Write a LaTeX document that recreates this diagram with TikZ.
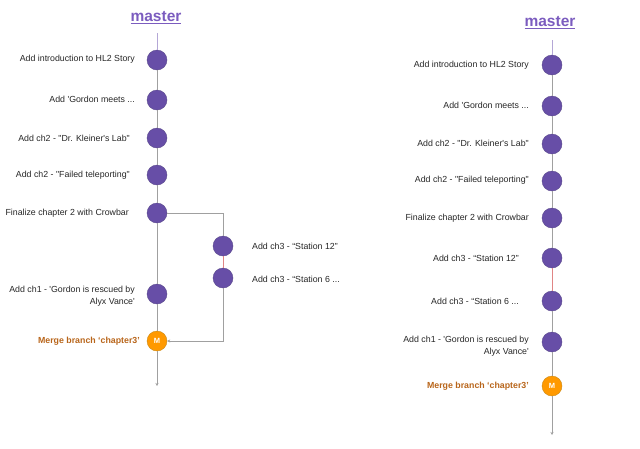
\documentclass[tikz,border=0pt]{standalone}
\usepackage{fontspec}
\newfontfamily\lab{Liberation Sans}
\usetikzlibrary{arrows.meta}
\definecolor{cpurple}{HTML}{674EA7}
\definecolor{cpedge}{HTML}{5B4A8C}
\definecolor{ctitle}{HTML}{7B5CBF}
\definecolor{cline}{HTML}{A0A0A0}
\definecolor{ctop}{HTML}{B4A7D6}
\definecolor{cred}{HTML}{E08585}
\definecolor{corange}{HTML}{FF9900}
\definecolor{coedge}{HTML}{C98A1A}
\definecolor{cmerge}{HTML}{B8651A}
\begin{document}
\begin{tikzpicture}[x=1pt,y=-1pt,
  commit/.style={circle,fill=cpurple,draw=cpedge,line width=0.4pt,minimum size=20pt,inner sep=0pt},
  mergec/.style={circle,fill=corange,draw=coedge,line width=0.4pt,minimum size=20pt,inner sep=0pt,font=\lab\bfseries\fontsize{7.5}{8}\selectfont,text=white},
  lbl/.style={font=\lab\fontsize{8.8}{11.5}\selectfont,text=black!85,inner sep=0pt,align=right},
  mlbl/.style={font=\lab\bfseries\fontsize{8.8}{11}\selectfont,text=cmerge,inner sep=0pt},
  title/.style={font=\lab\bfseries\fontsize{15.5}{18}\selectfont,text=ctitle,inner sep=0pt},
  edge/.style={draw=cline,line width=0.95pt},
  tip/.style={-{Stealth[length=3pt,width=3pt]}}
]
\useasboundingbox (0,0) rectangle (640,448);

% ---------- left diagram ----------
\node[title] (tL) at (156,18) {\underline{master}};
\coordinate (sL) at (157,33);
\node[commit] (a1) at (157,60) {};
\node[commit] (a2) at (157,100) {};
\node[commit] (a3) at (157,138) {};
\node[commit] (a4) at (157,175) {};
\node[commit] (a5) at (157,213) {};
\node[commit] (b1) at (223,246) {};
\node[commit] (b2) at (223,278) {};
\node[commit] (a6) at (157,294) {};
\node[mergec] (m1) at (157,341) {M};
\coordinate (eL) at (157,386);
\coordinate (cr) at (223,213);
\coordinate (cb) at (223,341);

\draw[draw=ctop,line width=0.95pt] (sL) -- (a1);
\draw[edge] (a1) -- (a2);
\draw[edge] (a2) -- (a3);
\draw[edge] (a3) -- (a4);
\draw[edge] (a4) -- (a5);
\draw[edge] (a5) -- (a6);
\draw[edge] (a6) -- (m1);
\draw[edge,tip] (m1) -- (eL);
\draw[edge] (a5) -- (cr) -- (b1);
\draw[draw=cred,line width=0.95pt] (b1) -- (b2);
\draw[edge,tip] (b2) -- (cb) -- (m1);

\node[lbl,anchor=east] (l1) at (135,59) {Add introduction to HL2 Story};
\node[lbl,anchor=east] (l2) at (135,99) {Add 'Gordon meets ...};
\node[lbl,anchor=east] (l3) at (130,138) {Add ch2 - "Dr. Kleiner's Lab"};
\node[lbl,anchor=east] (l4) at (130,175) {Add ch2 - "Failed teleporting"};
\node[lbl,anchor=east] (l5) at (129,213) {Finalize chapter 2 with Crowbar};
\node[lbl,anchor=west,align=left] (l6) at (252,246) {Add ch3 - “Station 12”};
\node[lbl,anchor=west,align=left] (l7) at (252,279) {Add ch3 - “Station 6 ...};
\node[lbl,anchor=east] (l8) at (135,296) {Add ch1 - 'Gordon is rescued by\\Alyx Vance'};
\node[mlbl,anchor=east] (l9) at (140,341) {Merge branch ‘chapter3’};

% ---------- right diagram ----------
\node[title] (tR) at (550,23) {\underline{master}};
\coordinate (sR) at (552,40);
\node[commit] (r1) at (552,65) {};
\node[commit] (r2) at (552,106) {};
\node[commit] (r3) at (552,144) {};
\node[commit] (r4) at (552,181) {};
\node[commit] (r5) at (552,218) {};
\node[commit] (r6) at (552,258) {};
\node[commit] (r7) at (552,301) {};
\node[commit] (r8) at (552,342) {};
\node[mergec] (m2) at (552,386) {M};
\coordinate (eR) at (552,435);

\draw[draw=ctop,line width=0.95pt] (sR) -- (r1);
\draw[edge] (r1) -- (r2);
\draw[edge] (r2) -- (r3);
\draw[edge] (r3) -- (r4);
\draw[edge] (r4) -- (r5);
\draw[edge] (r5) -- (r6);
\draw[draw=cred,line width=0.95pt] (r6) -- (r7);
\draw[edge] (r7) -- (r8);
\draw[edge] (r8) -- (m2);
\draw[edge,tip] (m2) -- (eR);

\node[lbl,anchor=east] (q1) at (529,65) {Add introduction to HL2 Story};
\node[lbl,anchor=east] (q2) at (529,105) {Add 'Gordon meets ...};
\node[lbl,anchor=east] (q3) at (529,143) {Add ch2 - "Dr. Kleiner's Lab"};
\node[lbl,anchor=east] (q4) at (529,180) {Add ch2 - "Failed teleporting"};
\node[lbl,anchor=east] (q5) at (529,218) {Finalize chapter 2 with Crowbar};
\node[lbl,anchor=east] (q6) at (519,258) {Add ch3 - “Station 12”};
\node[lbl,anchor=east] (q7) at (519,301) {Add ch3 - “Station 6 ...};
\node[lbl,anchor=east] (q8) at (529,346) {Add ch1 - 'Gordon is rescued by\\Alyx Vance'};
\node[mlbl,anchor=east] (q9) at (529,386) {Merge branch ‘chapter3’};
\end{tikzpicture}
\end{document}
